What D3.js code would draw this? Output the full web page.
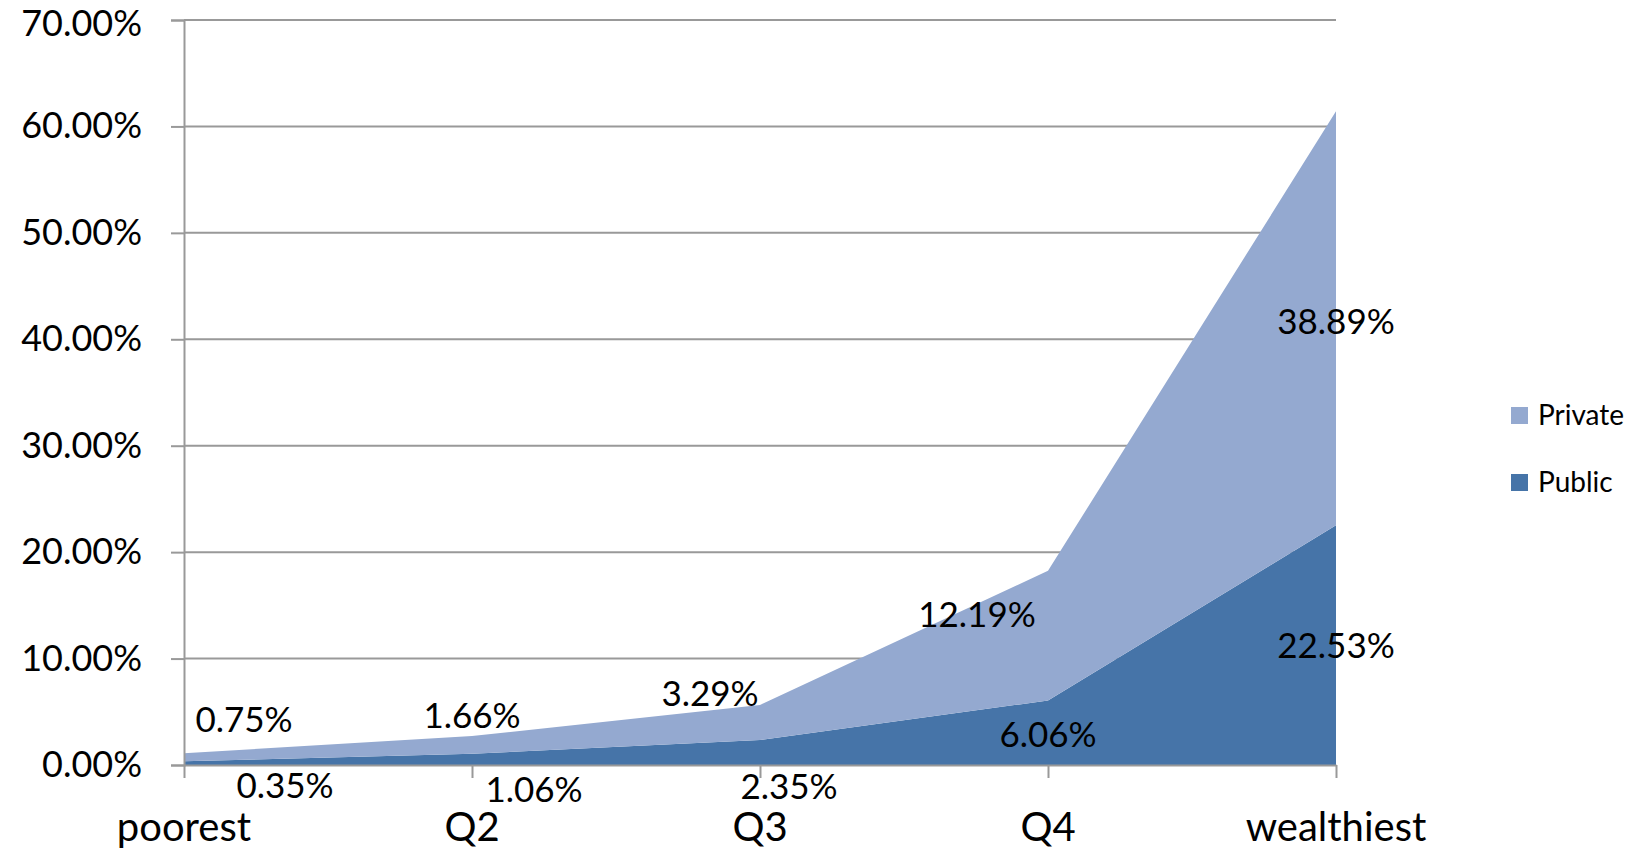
<!DOCTYPE html>
<html lang="en">
<head>
  <meta charset="UTF-8">
  <title>Public vs Private by wealth quintile</title>
  <script src="https://d3js.org/d3.v7.min.js"></script>
  <style>
    body {
      margin: 0;
      background: #fff;
      font-family: Lato, "Open Sans", sans-serif;
    }
    svg {
      display: block;
    }
  </style>
</head>
<body>
  <div id="chart"></div>

  <script>
    // data
    const categories = ["poorest", "Q2", "Q3", "Q4", "wealthiest"];
    const publicValues = [0.0035, 0.0106, 0.0235, 0.0606, 0.2253];
    const privateValues = [0.0075, 0.0166, 0.0329, 0.1219, 0.3889];
    const yTicks = [0, 0.1, 0.2, 0.3, 0.4, 0.5, 0.6, 0.7];

    const keys = ["Public", "Private"];
    const colors = { Public: "#4674a8", Private: "#94a9d0" };

    // label nudges (px) so the labels sit where the original put them
    const nudge = {
      Public:  [[101, 23], [62, 30], [29, 34], [0, 2], [0, 1]],
      Private: [[60, -38], [0, -29], [-50, -29], [-71, -21], [0, 3]]
    };

    const rows = categories.map((c, i) => ({
      cat: c,
      Public: publicValues[i],
      Private: privateValues[i]
    }));

    const width = 1627;
    const height = 851;
    const plotLeft = 184, plotRight = 1336, plotTop = 20, plotBottom = 765;

    const svg = d3.select("#chart")
      .append("svg")
      .attr("width", width)
      .attr("height", height);

    const x = d3.scalePoint()
      .domain(categories)
      .range([plotLeft, plotRight]);

    const y = d3.scaleLinear()
      .domain([0, 0.7])
      .range([plotBottom, plotTop]);

    // gridlines
    svg.append("g")
      .selectAll("line")
      .data(yTicks)
      .enter()
      .append("line")
      .attr("x1", plotLeft)
      .attr("x2", plotRight)
      .attr("y1", d => y(d))
      .attr("y2", d => y(d))
      .attr("stroke", "#999")
      .attr("stroke-width", 2);

    const series = d3.stack().keys(keys)(rows);

    const area = d3.area()
      .x(d => x(d.data.cat))
      .y0(d => y(d[0]))
      .y1(d => y(d[1]));

    svg.append("g")
      .selectAll("path")
      .data(series)
      .enter()
      .append("path")
      .attr("d", area)
      .attr("fill", d => colors[d.key]);

    // y axis
    const yAxis = svg.append("g")
      .attr("transform", `translate(${plotLeft},0)`)
      .call(d3.axisLeft(y)
        .tickValues(yTicks)
        .tickFormat(d3.format(".2%"))
        .tickSize(13)
        .tickPadding(29));
    yAxis.select(".domain").attr("stroke", "#999").attr("stroke-width", 2);
    yAxis.selectAll(".tick line").attr("stroke", "#999").attr("stroke-width", 2);
    yAxis.selectAll("text")
      .attr("fill", "#000")
      .style("font-family", "Lato, sans-serif")
      .style("font-size", "36px");
    // keep the top label inside the picture
    yAxis.selectAll(".tick text").filter(d => d === 0.7).attr("dy", "0.42em");

    // x axis
    const xAxis = svg.append("g")
      .attr("transform", `translate(0,${plotBottom})`)
      .call(d3.axisBottom(x).tickSize(13).tickSizeOuter(0).tickFormat(""));
    xAxis.select(".domain").attr("stroke", "#999").attr("stroke-width", 2);
    xAxis.selectAll(".tick line").attr("stroke", "#999").attr("stroke-width", 2);

    svg.append("g")
      .selectAll("text")
      .data(categories)
      .enter()
      .append("text")
      .attr("x", d => x(d))
      .attr("y", 841)
      .attr("text-anchor", "middle")
      .style("font-size", "40px")
      .text(d => d);

    // data labels at the middle of each band
    const fmt = d3.format(".2%");
    series.forEach(s => {
      svg.append("g")
        .selectAll("text")
        .data(s)
        .enter()
        .append("text")
        .attr("x", (d, i) => x(d.data.cat) + nudge[s.key][i][0])
        .attr("y", (d, i) => y((d[0] + d[1]) / 2) + nudge[s.key][i][1])
        .attr("dy", "0.35em")
        .attr("text-anchor", "middle")
        .style("font-size", "35px")
        .text(d => fmt(d.data[s.key]));
    });

    // legend
    const legend = svg.append("g")
      .selectAll("g")
      .data(["Private", "Public"])
      .enter()
      .append("g")
      .attr("transform", (d, i) => `translate(1511,${407 + i * 67})`);

    legend.append("rect")
      .attr("width", 17)
      .attr("height", 17)
      .attr("fill", d => colors[d]);

    legend.append("text")
      .attr("x", 27)
      .attr("y", 18)
      .style("font-size", "28px")
      .text(d => d);
  </script>
</body>
</html>
